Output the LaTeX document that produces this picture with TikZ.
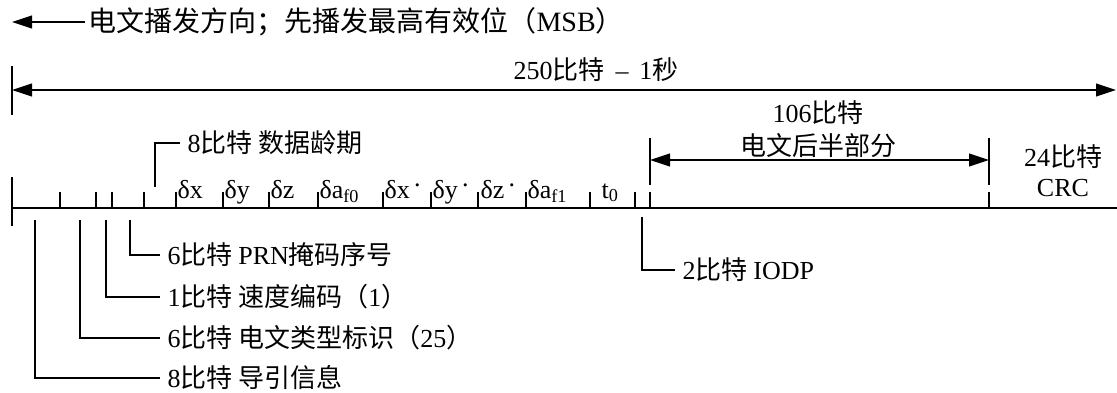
\documentclass[tikz,border=0pt]{standalone}
\usepackage{fontspec}
\setmainfont{Liberation Serif}
\newfontfamily\cjk{Noto Sans CJK SC}
\usetikzlibrary{arrows.meta,positioning}

\begin{document}
\begin{tikzpicture}[x=1pt, y=-1pt, >={Triangle[length=20pt,width=13pt]}, line width=1.1pt]
	\tikzstyle{txt}=[font=\fontsize{26}{30}\selectfont, inner sep=0pt]
	\tikzstyle{lbl}=[txt, anchor=west, inner xsep=7pt]
	\tikzstyle{field}=[txt, anchor=base west]
	\useasboundingbox (0,0) rectangle (1117,392);
	% % Nodes
	% broadcast direction
	\node[lbl, inner xsep=3pt, font=\fontsize{28}{32}\selectfont](dir) at (85,22)
	{{\cjk 电文播发方向；先播发最高有效位（}MSB{\cjk ）}};
	\coordinate (dirtip) at (12,22);
	% whole message
	\node[txt](total) at (596,70) {250{\cjk 比特}\, -- \,1{\cjk 秒}};
	\coordinate (totalL) at (12,90);
	\coordinate (totalR) at (1116,90);
	% second half of the message
	\node[txt](half) at (818,113) {106{\cjk 比特}};
	\node[txt](halftxt) at (818,146) {\cjk 电文后半部分};
	\coordinate (halfL) at (650,160);
	\coordinate (halfR) at (989,160);
	% crc
	\node[txt](crc) at (1063,157) {24{\cjk 比特}};
	\node[txt](crctxt) at (1063,188) {CRC};
	% fields above the line
	\node[lbl](iode) at (180,143) {8{\cjk 比特 数据龄期}};
	\node[field](dx) at (177,198) {δx};
	\node[field](dy) at (224,198) {δy};
	\node[field](dz) at (270,198) {δz};
	\node[field](daf0) at (319,198) {δa\textsubscript{f0}};
	\node[field](ddx) at (384,198) {δx\,\raisebox{12pt}{.}};
	\node[field](ddy) at (432,198) {δy\,\raisebox{12pt}{.}};
	\node[field](ddz) at (480,198) {δz\,\raisebox{12pt}{.}};
	\node[field](daf1) at (527,198) {δa\textsubscript{f1}};
	\node[field](tzero) at (601,198) {t\textsubscript{0}};
	% fields below the line
	\node[lbl](prn) at (160,255) {6{\cjk 比特 }PRN{\cjk 掩码序号}};
	\node[lbl](rate) at (160,297) {1{\cjk 比特 速度编码（}1{\cjk ）}};
	\node[lbl](type) at (160,338) {6{\cjk 比特 电文类型标识（}25{\cjk ）}};
	\node[lbl](pre) at (160,378) {8{\cjk 比特 导引信息}};
	\node[lbl](iodp) at (675,270) {2{\cjk 比特 }IODP};
	% % Connectors
	\draw [->] (dir.west) -- (dirtip);
	\draw (12,66) -- (12,115);
	\draw [<->] (totalL) -- (totalR);
	\draw (650,138) -- (650,185);
	\draw (989,138) -- (989,185);
	\draw [<->] (halfL) -- (halfR);
	% bit line and ticks
	\draw [line width=2pt] (12,208) -- (1117,208);
	\draw [line width=2pt] (12,177) -- (12,226);
	\draw [line width=1.6pt]
		(60,192) -- (60,208) (96,192) -- (96,208) (112,192) -- (112,208)
		(144,192) -- (144,208) (176,192) -- (176,208) (223,192) -- (223,208)
		(269,192) -- (269,208) (318,192) -- (318,208) (383,192) -- (383,208)
		(431,192) -- (431,208) (478,192) -- (478,208) (526,192) -- (526,208)
		(590,192) -- (590,208) (635,192) -- (635,208) (650,192) -- (650,208)
		(989,192) -- (989,208);
	% leaders
	\draw (155,187) |- (iode.west);
	\draw (130,220) |- (prn.west);
	\draw (106,220) |- (rate.west);
	\draw (80,220) |- (type.west);
	\draw (35,220) |- (pre.west);
	\draw (642,217) |- (iodp.west);
\end{tikzpicture}
\end{document}
